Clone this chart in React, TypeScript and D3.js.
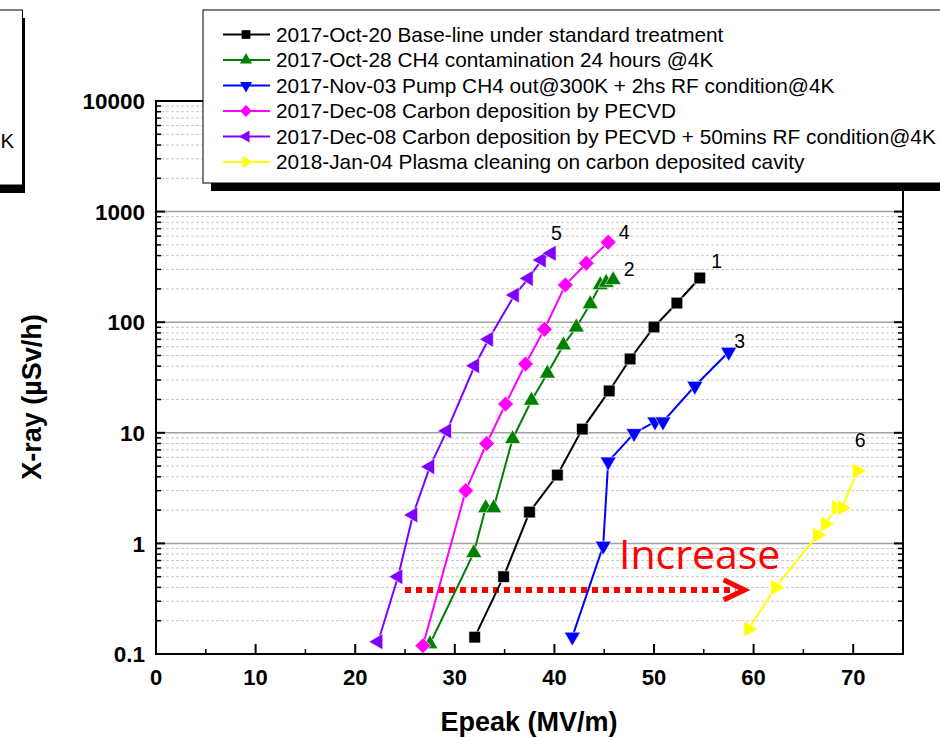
import React from "react";
import * as d3 from "d3";

const seriesNames = [
  "2017-Oct-20 Base-line under standard treatment",
  "2017-Oct-28 CH4 contamination 24 hours @4K",
  "2017-Nov-03 Pump CH4 out@300K + 2hs RF condition@4K",
  "2017-Dec-08 Carbon deposition by PECVD",
  "2017-Dec-08 Carbon deposition by PECVD + 50mins RF condition@4K",
  "2018-Jan-04 Plasma cleaning on carbon deposited cavity",
];
const seriesColors = ["#000000", "#008000", "#0000ff", "#ff00ff", "#8000ff", "#ffff00"];
const seriesMarkers = ["square", "up", "down", "diamond", "left", "right"];
const seriesTags = ["1", "2", "3", "4", "5", "6"];

const epeak1 = [32.0, 34.9, 37.5, 40.3, 42.8, 45.5, 47.6, 50.0, 52.3, 54.6];
const xray1 = [0.142, 0.5, 1.92, 4.15, 10.8, 23.9, 46.5, 90.5, 149, 251];

const epeak2 = [27.5, 31.9, 33.1, 33.9, 35.8, 37.7, 39.3, 40.9, 42.2, 43.6, 44.6, 45.2, 45.9];
const xray2 = [0.123, 0.82, 2.09, 2.09, 8.8, 19.6, 34.4, 62, 90, 146, 217, 228, 241];

const epeak3 = [41.8, 44.9, 45.4, 48.0, 50.1, 50.9, 54.1, 57.5];
const xray3 = [0.143, 0.95, 5.48, 9.9, 12.6, 12.6, 26.5, 53.8];

const epeak4 = [26.8, 31.1, 33.2, 35.1, 37.1, 39.0, 41.1, 43.2, 45.4];
const xray4 = [0.119, 3.0, 8.0, 18.2, 41.9, 86.3, 217, 341, 528];

const epeak5 = [22.3, 24.3, 25.8, 27.5, 29.2, 32.0, 33.4, 36.0, 37.4, 38.7, 39.7];
const xray5 = [0.129, 0.5, 1.81, 4.94, 10.4, 40.4, 70, 176, 249, 365, 420];

const epeak6 = [59.5, 62.2, 66.4, 67.2, 68.3, 68.9, 70.4];
const xray6 = [0.168, 0.4, 1.19, 1.5, 2.1, 2.1, 4.52];

const epeakAll = [epeak1, epeak2, epeak3, epeak4, epeak5, epeak6];
const xrayAll = [xray1, xray2, xray3, xray4, xray5, xray6];

// label anchor points for series numbers (data coords)
const tagEpeak = [56.3, 47.5, 58.6, 47.0, 40.2, 70.7];
const tagXray = [360, 300, 68, 660, 640, 8.6];

const xTicks = [0, 10, 20, 30, 40, 50, 60, 70];
const yTicks = [0.1, 1, 10, 100, 1000, 10000];
const yTickLabels = ["0.1", "1", "10", "100", "1000", "10000"];

const arrowFrom = 25;
const arrowTo = 59;
const arrowLevel = 0.38;

const W = 940;
const H = 737;
const M = { left: 156, right: 903, top: 101, bottom: 654 };

const x = d3.scaleLinear().domain([0, 75]).range([M.left, M.right]);
const y = d3.scaleLog().domain([0.1, 10000]).range([M.bottom, M.top]);

function markerPath(kind: string, big: boolean) {
  const k = big ? 1 : 0.75;
  if (kind === "square") return { d: d3.symbol(d3.symbolSquare, 135 * k * k)()!, rot: 0 };
  if (kind === "diamond") return { d: d3.symbol(d3.symbolSquare, 125 * k * k)()!, rot: 45 };
  const tri = d3.symbol(d3.symbolTriangle, 112 * k * k)()!;
  const rot = kind === "up" ? 0 : kind === "down" ? 180 : kind === "left" ? -90 : 90;
  return { d: tri, rot };
}

const FONT = "Arial, 'Liberation Sans', sans-serif";

export default function App() {
  const line = d3
    .line<[number, number]>()
    .x((d) => x(d[0]))
    .y((d) => y(d[1]));

  const minorY: number[] = [];
  for (let e = -1; e < 4; e++) {
    for (let m = 2; m <= 9; m++) minorY.push(m * Math.pow(10, e));
  }
  const minorX: number[] = [];
  for (let v = 5; v < 75; v += 10) minorX.push(v);

  const legendX = 203;
  const legendY = 10;
  const legendW = 760;
  const legendH = 173;

  return (
    <svg
      width={W}
      height={H}
      style={{ position: "absolute", left: 0, top: 0, background: "#fff" }}
      fontFamily={FONT}
    >
      <rect x={0} y={0} width={W} height={H} fill="#fff" />
      {/* partial legend box of a neighbouring chart */}
      <rect x={-300} y={18} width={325} height={175} fill="#000" />
      <rect x={-300} y={10} width={322.5} height={175} fill="#fff" stroke="#000" strokeWidth={1} />
      <text x={0.5} y={141} dy="0.36em" fontSize={20.5} fill="#000">
        K
      </text>

      {/* grid */}
      {minorY.map((v, i) => (
        <line
          key={"my" + i}
          x1={M.left}
          x2={M.right}
          y1={y(v)}
          y2={y(v)}
          stroke="#c8c8c8"
          strokeWidth={1}
          strokeDasharray="3,2"
        />
      ))}
      {yTicks.map((v, i) => (
        <line key={"gy" + i} x1={M.left} x2={M.right} y1={y(v)} y2={y(v)} stroke="#a0a0a0" strokeWidth={1.5} />
      ))}

      {/* increase arrow */}
      <line
        x1={x(arrowFrom)}
        x2={x(arrowTo) - 8}
        y1={y(arrowLevel)}
        y2={y(arrowLevel)}
        stroke="#ff0000"
        strokeWidth={6}
        strokeDasharray="6,5"
      />
      <polyline
        points={`${x(arrowTo) - 20},${y(arrowLevel) - 10} ${x(arrowTo) + 1},${y(arrowLevel)} ${x(arrowTo) - 20},${y(arrowLevel) + 10}`}
        fill="none"
        stroke="#ff0000"
        strokeWidth={5}
        strokeLinejoin="miter"
      />
      <text x={619} y={569} fontSize={41} fill="#ff0000" fontFamily="'Open Sans', 'Noto Sans', sans-serif">
        Increase
      </text>

      {/* series */}
      {epeakAll.map((xs, si) => {
        const pts: [number, number][] = xs.map((v, i) => [v, xrayAll[si][i]]);
        const mk = markerPath(seriesMarkers[si], true);
        return (
          <g key={"s" + si}>
            <path d={line(pts)!} fill="none" stroke={seriesColors[si]} strokeWidth={2} />
            {pts.map((p, i) => (
              <path
                key={i}
                d={mk.d}
                transform={`translate(${x(p[0])},${y(p[1])}) rotate(${mk.rot})`}
                fill={seriesColors[si]}
                stroke="#fff"
                strokeWidth={0.6}
              />
            ))}
            <text x={x(tagEpeak[si])} y={y(tagXray[si])} fontSize={19.5} textAnchor="middle" dy="0.36em" fill="#000">
              {seriesTags[si]}
            </text>
          </g>
        );
      })}

      {/* axes frame */}
      <rect x={M.left} y={M.top} width={M.right - M.left} height={M.bottom - M.top} fill="none" stroke="#000" strokeWidth={2} />
      {/* y ticks */}
      {yTicks.map((v, i) => (
        <g key={"yt" + i}>
          <line x1={M.left} x2={M.left + 9} y1={y(v)} y2={y(v)} stroke="#000" strokeWidth={2} />
          <line x1={M.right} x2={M.right - 9} y1={y(v)} y2={y(v)} stroke="#000" strokeWidth={2} />
          <text x={145} y={y(v)} dy="0.36em" textAnchor="end" fontSize={22.5} fontWeight="bold" fill="#000">
            {yTickLabels[i]}
          </text>
        </g>
      ))}
      {minorY.map((v, i) => (
        <g key={"ymt" + i}>
          <line x1={M.left} x2={M.left + 5} y1={y(v)} y2={y(v)} stroke="#000" strokeWidth={1.5} />
          <line x1={M.right} x2={M.right - 5} y1={y(v)} y2={y(v)} stroke="#000" strokeWidth={1.5} />
        </g>
      ))}
      {/* x ticks */}
      {xTicks.map((v, i) => (
        <g key={"xt" + i}>
          <line x1={x(v)} x2={x(v)} y1={M.bottom} y2={M.bottom - 10} stroke="#000" strokeWidth={2} />
          <line x1={x(v)} x2={x(v)} y1={M.top} y2={M.top + 10} stroke="#000" strokeWidth={2} />
          <text x={x(v)} y={685} textAnchor="middle" fontSize={22} fontWeight="bold" fill="#000">
            {v}
          </text>
        </g>
      ))}
      {minorX.map((v, i) => (
        <g key={"xmt" + i}>
          <line x1={x(v)} x2={x(v)} y1={M.bottom} y2={M.bottom - 5} stroke="#000" strokeWidth={1.5} />
          <line x1={x(v)} x2={x(v)} y1={M.top} y2={M.top + 5} stroke="#000" strokeWidth={1.5} />
        </g>
      ))}

      {/* axis titles */}
      <text x={529} y={731} textAnchor="middle" fontSize={27} fontWeight="bold" fill="#000">
        Epeak (MV/m)
      </text>
      <text
        transform={`translate(41,397) rotate(-90)`}
        textAnchor="middle"
        fontSize={27}
        fontWeight="bold"
        fill="#000"
      >
        X-ray (µSv/h)
      </text>

      {/* legend */}
      <rect x={legendX + 8} y={legendY + 8} width={legendW} height={legendH} fill="#000" />
      <rect x={legendX} y={legendY} width={legendW} height={legendH} fill="#fff" stroke="#000" strokeWidth={1} />
      {seriesNames.map((name, i) => {
        const cy = 34.5 + i * 25.5;
        const mk = markerPath(seriesMarkers[i], false);
        return (
          <g key={"lg" + i}>
            <line x1={223} x2={270} y1={cy} y2={cy} stroke={seriesColors[i]} strokeWidth={2} />
            <path d={mk.d} transform={`translate(246,${cy}) rotate(${mk.rot})`} fill={seriesColors[i]} />
            <text x={276} y={cy} dy="0.36em" fontSize={20.8} fill="#000">
              {name}
            </text>
          </g>
        );
      })}
    </svg>
  );
}
